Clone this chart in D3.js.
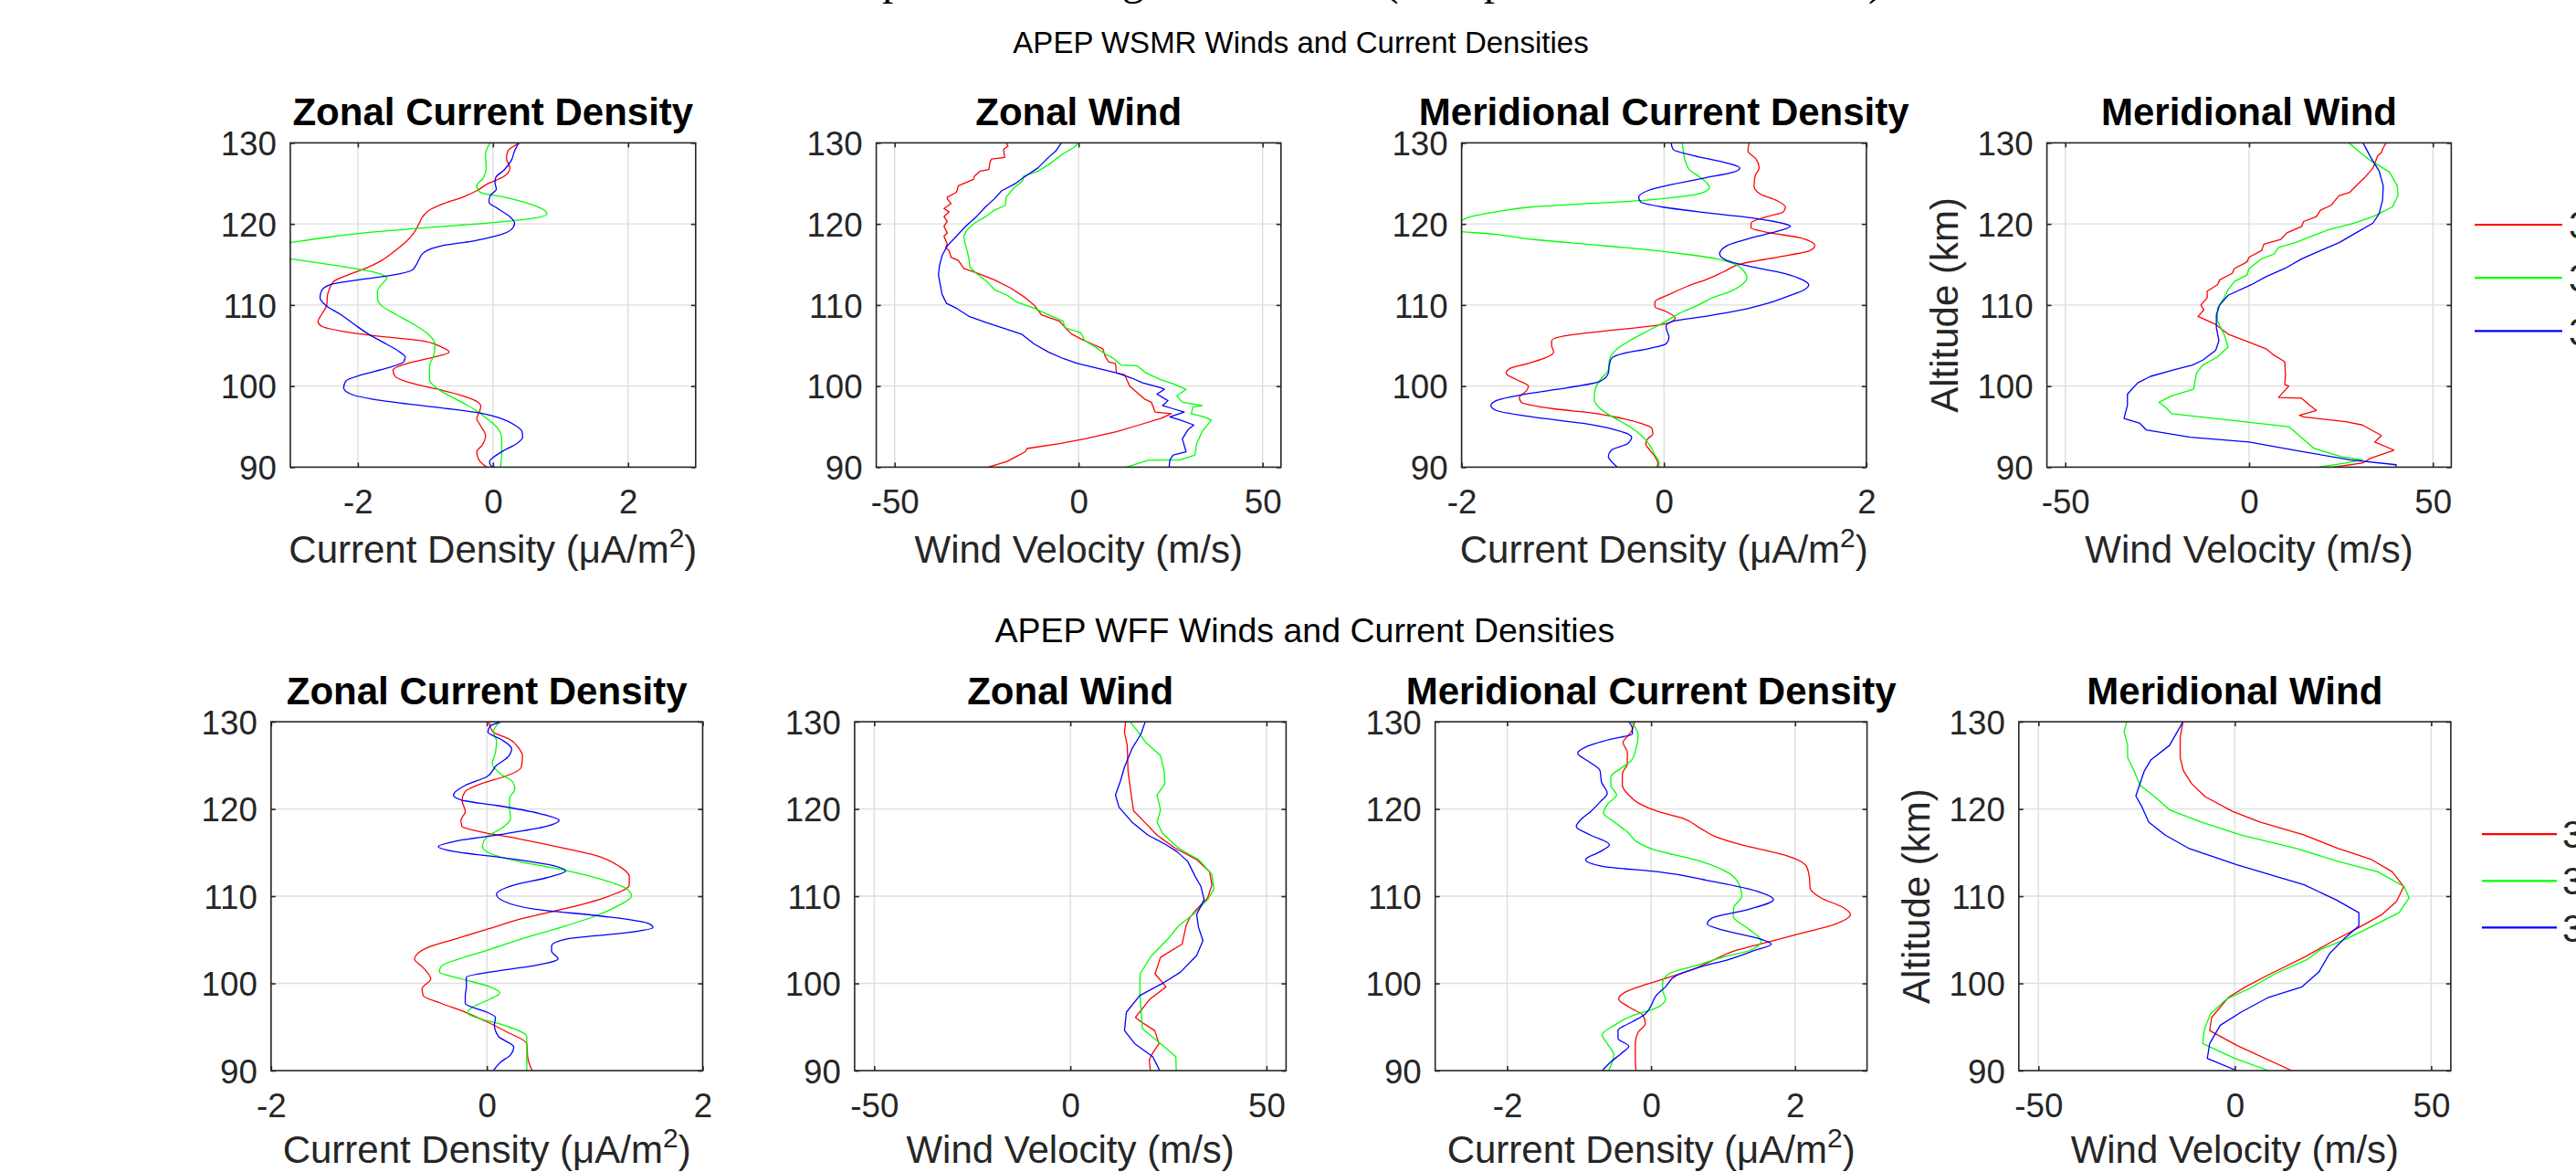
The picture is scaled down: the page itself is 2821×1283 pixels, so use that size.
<!DOCTYPE html>
<html>
<head>
<meta charset="utf-8">
<script src="https://cdn.jsdelivr.net/npm/d3@7"></script>
<style>
  body { margin: 0; background: #fff; overflow: hidden; }
  svg { display: block; font-family: "Liberation Sans", Arial, sans-serif; }
</style>
</head>
<body>
<svg id="chart"></svg>
<script>
const width = 2821, height = 1283;

// legend entries (red, green, blue)
const flights = ["36.386", "36.387", "36.388"];
const colors = ["#ff0000", "#00ff00", "#0000ff"];
const altTicks = [90, 100, 110, 120, 130];
const jTicks = [-2, 0, 2];
const windTicks = [-50, 0, 50];

// ---------- WSMR profiles, [altitude (km), value] ----------
const wsmrZonalJ386 = [[130,0.40],[129,0.22],[128.1,0.2],[126.9,0.25],[125.9,0.17],[124.9,-0.09],[124.1,-0.24],[123.3,-0.45],[122.5,-0.73],[121.7,-0.94],[120.9,-1.04],[120.1,-1.09],[118.9,-1.17],[117.7,-1.3],[116.5,-1.48],[115.3,-1.69],[114.5,-1.89],[113.7,-2.15],[112.9,-2.36],[112,-2.42],[111.2,-2.45],[110,-2.46],[108.8,-2.54],[108,-2.59],[107.4,-2.54],[106.8,-2.25],[106.2,-1.74],[105.6,-1.07],[104.8,-0.76],[104.2,-0.65],[103.6,-0.86],[102.8,-1.27],[102,-1.48],[101.2,-1.45],[100.4,-1.22],[99.6,-0.81],[98.8,-0.45],[98,-0.22],[97.6,-0.18],[96.8,-0.2],[96,-0.24],[95.2,-0.19],[93.9,-0.11],[92.7,-0.16],[91.9,-0.24],[91.1,-0.22],[90.3,-0.14],[90,-0.09]];
const wsmrZonalJ387 = [[130,-0.04],[128.6,-0.11],[126.9,-0.1],[125.7,-0.14],[124.7,-0.24],[123.9,-0.19],[123.3,0.17],[122.5,0.53],[121.7,0.76],[121.2,0.8],[120.7,0.6],[120.2,0.05],[119.6,-0.9],[118.9,-1.9],[118.3,-2.5],[117.7,-3.0],[116.7,-3.8],[115.7,-3.0],[115.1,-2.51],[114.5,-2.05],[113.9,-1.69],[113.3,-1.57],[112.7,-1.63],[111.7,-1.71],[110.9,-1.71],[110,-1.66],[108.8,-1.43],[107.6,-1.17],[106.4,-0.96],[105.2,-0.86],[104,-0.87],[102.4,-0.94],[100.8,-0.94],[99.6,-0.81],[98.4,-0.55],[97.2,-0.29],[96,-0.09],[94.8,0.07],[93.5,0.13],[91.9,0.13],[90,0.11]];
const wsmrZonalJ388 = [[130,0.38],[129,0.32],[127.8,0.27],[126.7,0.17],[125.7,0.04],[125.1,0.03],[124.3,0.05],[123.5,-0.04],[122.7,-0.06],[121.9,0.07],[120.9,0.25],[120.1,0.32],[119.3,0.27],[118.5,0.04],[117.9,-0.29],[117.3,-0.76],[116.5,-1.02],[115.7,-1.09],[114.9,-1.14],[114.3,-1.2],[113.7,-1.48],[113.1,-1.99],[112.5,-2.41],[111.7,-2.54],[110.9,-2.56],[110,-2.48],[108.8,-2.25],[107.6,-2.05],[106.4,-1.84],[105.2,-1.58],[104.2,-1.38],[103.6,-1.3],[103,-1.32],[102.2,-1.58],[101.4,-1.94],[100.6,-2.18],[99.8,-2.21],[99,-2.1],[98.4,-1.79],[97.8,-1.27],[97.2,-0.65],[96.6,-0.14],[96,0.12],[95.2,0.32],[94.4,0.43],[93.7,0.44],[92.9,0.35],[92.1,0.17],[91.3,0.02],[90.7,-0.05],[90.3,-0.04],[90,0]];

const wsmrZonalW386 = [[130,-19.6],[129.6,-19.2],[129.2,-20.4],[128.2,-20.1],[128,-23.7],[127.6,-24.1],[126.7,-24.4],[126.5,-26.8],[125.9,-28.3],[125.5,-28.6],[124.7,-32.7],[123.9,-33.2],[123.3,-35.7],[123.1,-35.7],[122.5,-34.7],[121.9,-36.6],[121.5,-35.2],[120.9,-36.6],[120.3,-35.7],[119.7,-36.6],[118.9,-35.7],[118.5,-36.6],[117.5,-35.7],[117.1,-36.1],[116.7,-35.2],[115.9,-34.7],[115.5,-32.7],[114.5,-31.2],[113.9,-27.3],[113.1,-22.9],[112.1,-18.5],[110.9,-14.5],[110,-12.1],[108.8,-10.1],[108,-5.2],[107,-3.2],[106.4,-1.8],[105.8,0.7],[105.2,3.6],[104.6,6.6],[103.8,7.1],[103,8.1],[102.8,10],[101.6,10.3],[101.4,12.5],[100,13.9],[98.8,16.9],[98.4,17.9],[98,19.8],[97.4,20.3],[96.8,20.8],[96.6,25.2],[96,22.3],[95.2,16.4],[94.4,10.5],[93.5,1.7],[92.9,-5.2],[92.3,-14],[91.9,-14.5],[91.3,-17],[90.7,-19.4],[90,-24.6]];
const wsmrZonalW387 = [[130,0],[129.4,-1.3],[128.8,-3.7],[128,-6.2],[127.3,-8.2],[126.5,-11.1],[125.9,-15],[125.3,-15.2],[124.5,-17.5],[123.3,-19.7],[122.3,-19.9],[121.7,-22.9],[120.9,-25.3],[120.1,-28.3],[119.3,-30.3],[118.5,-31.2],[117.7,-30.9],[116.7,-30.3],[115.7,-29.8],[114.7,-29.6],[113.9,-27.8],[112.9,-24.9],[111.9,-22.9],[111.2,-19.4],[110.4,-17],[109.6,-12.1],[108.6,-7.2],[108,-4.2],[107.2,-3.7],[106.6,0.5],[105.6,1.7],[104.8,4.6],[104,7.1],[103.4,9.5],[102.6,11.5],[102.5,15.9],[101.6,18.4],[100.8,22.3],[100.2,26.2],[99.6,29.2],[98.8,26.7],[98,28.2],[97.6,33.6],[97.4,31.1],[96.6,30.6],[96.2,34.1],[95.8,36.1],[94.4,33.6],[92.9,32.1],[91.5,31.6],[90.9,27.7],[90.85,18.9],[90,13]];
const wsmrZonalW388 = [[130,-4.7],[129,-6.2],[128.2,-8.2],[126.9,-11.1],[125.7,-15],[124.9,-17.5],[124.1,-20.9],[123.1,-22.9],[122.1,-25.3],[120.9,-27.8],[119.7,-30.7],[118.5,-33.2],[117.3,-35.7],[116.1,-37.1],[114.9,-37.8],[113.7,-38.1],[112.5,-37.6],[111.3,-37.1],[110.2,-35.9],[109.6,-33.2],[108.6,-29.8],[107.8,-24.9],[107,-19.4],[106.4,-15.5],[105.2,-12.1],[104.2,-8.2],[103.4,-4.2],[102.8,-0.3],[102.2,5.1],[101.6,10.5],[101,14.4],[100.4,17.4],[99.8,22.3],[99.6,23.3],[99,21.3],[98.2,24.3],[97.6,22.8],[97.2,25.7],[96.8,28.7],[96.2,24.8],[95.8,27.7],[95.2,31.3],[94.6,29.7],[93.5,28.2],[91.9,29.2],[91.5,25.7],[90.9,24.8],[90,24.6]];

const wsmrMeridJ386 = [[130,0.84],[129,0.83],[128,0.91],[126.9,0.94],[125.9,0.9],[124.7,0.89],[123.7,0.95],[122.9,1.11],[122.1,1.2],[121.5,1.18],[120.9,1.02],[120.1,0.86],[119.5,0.86],[118.9,1.05],[118.3,1.34],[117.3,1.49],[116.7,1.44],[115.9,1.12],[115.1,0.77],[114.1,0.59],[113.3,0.45],[112.3,0.23],[111.3,0.05],[110.4,-0.09],[109.8,-0.09],[109.2,0.02],[108.4,0.11],[107.8,0.05],[107.4,-0.12],[106.8,-0.59],[106.2,-0.98],[105.6,-1.11],[105,-1.11],[104.2,-1.09],[103.4,-1.19],[102.8,-1.34],[102.2,-1.52],[101.6,-1.56],[100.8,-1.46],[100,-1.34],[99.4,-1.36],[98.6,-1.43],[98,-1.41],[97.2,-1.09],[96.6,-0.66],[96,-0.41],[95.4,-0.23],[94.8,-0.12],[94.1,-0.11],[93.5,-0.16],[92.9,-0.18],[92.1,-0.14],[91.3,-0.09],[90.5,-0.06],[90,-0.07]];
const wsmrMeridJ387 = [[130,0.18],[129,0.19],[127.8,0.21],[126.7,0.25],[125.9,0.34],[125.1,0.42],[124.5,0.45],[123.9,0.39],[123.4,0.19],[122.9,-0.2],[122.5,-0.77],[122.1,-1.3],[121.5,-1.66],[120.9,-1.91],[120.3,-2.05],[119.7,-2.5],[119.1,-2.05],[118.7,-1.66],[118.1,-1.3],[117.5,-0.77],[116.9,-0.23],[116.3,0.19],[115.7,0.52],[115.1,0.69],[114.3,0.78],[113.3,0.82],[112.5,0.77],[111.7,0.66],[110.9,0.48],[110,0.34],[109.2,0.19],[108,0.02],[106.8,-0.16],[105.6,-0.34],[104.4,-0.48],[103.2,-0.54],[102,-0.55],[100.8,-0.63],[99.6,-0.68],[98.4,-0.69],[97.2,-0.63],[96,-0.48],[95,-0.34],[94,-0.23],[92.7,-0.14],[91.5,-0.09],[90.7,-0.05],[90,-0.05]];
const wsmrMeridJ388 = [[130,0.07],[129.2,0.09],[128.4,0.3],[127.6,0.59],[126.9,0.75],[126.3,0.66],[125.7,0.41],[124.9,0.09],[124.1,-0.16],[123.3,-0.25],[122.7,-0.23],[122.1,-0.02],[121.5,0.34],[120.9,0.77],[120.3,1.09],[119.7,1.25],[119.1,1.12],[118.3,0.87],[117.3,0.62],[116.3,0.55],[115.5,0.62],[114.7,0.87],[113.9,1.19],[113.1,1.37],[112.5,1.43],[111.9,1.39],[111.1,1.23],[110.2,1.02],[109.4,0.77],[108.6,0.41],[108,0.09],[107.4,0.02],[106.8,0.03],[106,0.05],[105.2,0.02],[104.6,-0.16],[104,-0.41],[103.4,-0.52],[102.6,-0.54],[101.6,-0.55],[100.6,-0.63],[99.8,-0.95],[99,-1.38],[98.2,-1.66],[97.6,-1.71],[97,-1.66],[96.2,-1.3],[95.4,-0.8],[94.6,-0.48],[93.7,-0.32],[92.9,-0.36],[92.1,-0.52],[91.3,-0.55],[90.7,-0.52],[90,-0.46]];

const wsmrMeridW386 = [[130,37.3],[129.4,36.5],[128.8,36],[128.4,35],[126.9,33.7],[125.7,31.4],[124.7,29.1],[123.9,27.4],[123.5,24.5],[122.9,23.4],[122.3,22.3],[121.7,19.4],[120.9,18.3],[120.3,14.8],[119.7,14.3],[118.9,10.3],[118.1,8.6],[117.5,4],[116.7,3.4],[115.9,0],[115.3,-0.6],[114.5,-4],[113.9,-4.6],[113.1,-8],[112.5,-8.6],[111.7,-11.4],[110.9,-11.4],[110,-13.1],[109.4,-12.3],[108.6,-13.9],[107.6,-9.1],[106.4,-5.7],[105.4,0],[104.6,4.6],[103.8,6.8],[103,9.7],[101.4,9.9],[100.2,9.7],[100,10.8],[98.6,8],[98.5,14.3],[97.6,16.6],[97,18.3],[96.4,13.7],[96.2,14.8],[95.6,26.3],[95.2,30.8],[93.9,36],[93.1,34.2],[92.1,39.4],[91.1,33.1],[90.5,30.8],[90,22.8]];
const wsmrMeridW387 = [[130,27.1],[129,29.7],[127.8,33.1],[126.4,38.2],[124.7,40.3],[123.5,40.5],[122.1,39],[120.9,33.7],[120.1,28.5],[119.3,21.7],[118.5,17.1],[117.7,12.6],[117.1,8],[116.3,6.8],[115.7,3.4],[114.5,0],[113.7,-0.6],[112.9,-4],[111.9,-5.7],[110.9,-6.8],[109.6,-8.6],[108,-8.6],[106.4,-6.8],[104.8,-5.7],[103.6,-8.6],[102.6,-12.6],[101.6,-14.3],[99.6,-15.1],[98.8,-21.1],[98,-24.5],[97.4,-22.8],[96.6,-21.1],[95,10.8],[92.3,17.7],[91.3,25.1],[90.9,30.8],[90.5,26.3],[90,18.8]];
const wsmrMeridW388 = [[130,31],[128.2,33.1],[126.5,35.4],[124.7,36.5],[122.9,36.3],[121.3,35.4],[120.1,33.7],[118.9,29.1],[117.7,24.5],[116.7,19.4],[115.7,14.3],[114.5,9.7],[113.5,4.6],[112.5,0.6],[111.2,-5.7],[110,-8],[108.8,-8.9],[107.2,-8.9],[105.6,-8.2],[104.4,-9.1],[103.2,-12.6],[102.6,-15.4],[102,-20.5],[101.2,-26.8],[100.4,-30.3],[99,-33.1],[97.6,-33.1],[96.6,-33.7],[96,-34],[95.4,-29.7],[94.6,-28],[93.7,-16],[93.1,0],[91.9,14.8],[90.9,27.4],[90.3,40],[90,40]];

// ---------- WFF profiles, [altitude (km), value] ----------
const wffZonalJ386 = [[130,0.02],[129.5,0.03],[128.8,0.06],[128,0.21],[126.9,0.3],[126.1,0.33],[124.8,0.32],[124.2,0.26],[123.7,0.16],[122.9,-0.05],[122,-0.2],[121,-0.23],[119.7,-0.2],[118.7,-0.24],[118,-0.23],[117.4,-0.07],[116.6,0.29],[115.7,0.64],[114.7,1],[113.4,1.23],[112.3,1.32],[111.3,1.32],[110,1.13],[108.7,0.77],[107.5,0.35],[106.2,0],[105.1,-0.29],[104.1,-0.55],[102.8,-0.67],[101.8,-0.59],[100.5,-0.52],[99.4,-0.6],[98.6,-0.59],[97.7,-0.42],[96.7,-0.2],[95.6,0],[94.4,0.19],[93.1,0.37],[91.4,0.38],[90,0.42]];
const wffZonalJ387 = [[130,0.12],[128.8,0.06],[127.8,0.09],[126.5,0.08],[125.2,0.05],[124,0.13],[123.1,0.24],[122.3,0.26],[121.2,0.21],[120.2,0.21],[118.9,0.22],[117.8,0.14],[116.8,0],[115.7,-0.04],[114.9,0.03],[114,0.29],[113,0.71],[111.9,1.07],[110.9,1.29],[110,1.34],[109,1.23],[107.7,1],[106.4,0.68],[105.1,0.32],[103.9,0.03],[102.8,-0.26],[102,-0.42],[101.3,-0.44],[100.5,-0.23],[99.6,0.03],[98.9,0.12],[98.2,0.03],[97.3,-0.13],[96.6,-0.18],[96.1,-0.1],[95.2,0.16],[93.9,0.37],[92.2,0.37],[90,0.37]];
const wffZonalJ388 = [[130,0.14],[129.5,0.03],[128.8,0.01],[128,0.13],[126.9,0.23],[125.9,0.19],[125,0.09],[123.7,0],[122.7,-0.2],[121.6,-0.31],[121,-0.23],[120.4,0.09],[119.5,0.48],[118.7,0.67],[118,0.55],[117.2,0.19],[116.3,-0.29],[115.7,-0.45],[115.1,-0.29],[114.4,0.16],[113.6,0.58],[112.9,0.73],[112.1,0.55],[111.3,0.26],[110.2,0.09],[109.4,0.16],[108.5,0.45],[107.7,1.07],[106.9,1.49],[106.4,1.54],[105.8,1.29],[105.1,0.74],[104.3,0.6],[103.7,0.6],[102.8,0.66],[102,0.42],[101.3,0.03],[100.7,-0.19],[99.6,-0.19],[98.6,-0.2],[97.7,-0.2],[96.7,0],[96.1,0.08],[95.2,0.07],[93.9,0.11],[92.7,0.25],[91.8,0.22],[91,0.13],[90,0.06]];

const wffZonalW386 = [[130,14.1],[128.8,13.8],[127.3,14.5],[124.4,14.7],[122.7,15.2],[119.8,16.1],[118.5,18.9],[117,22.1],[115.5,26.7],[114.2,32.2],[112.8,35.5],[111.3,36.1],[109.8,35],[108.3,31.8],[107.5,30.4],[106.6,29.5],[104.5,28.5],[103,23],[101.1,21.6],[99.6,24.4],[98.2,20.3],[96.1,16.6],[95.6,18],[94.6,21.5],[93.1,22.6],[91.8,20.7],[91.2,20.1],[90,20.4]];
const wffZonalW387 = [[130,15.2],[129,17],[127.6,19.3],[126.1,23],[124.4,23.9],[122.9,24.1],[121.6,22.1],[119.9,23],[118.5,22.1],[117.2,23.5],[115.5,27.6],[114.2,32.7],[112.5,36.1],[110.8,36.6],[109.6,35],[107.9,31.3],[106.6,27.6],[105.1,24.9],[103.2,20.7],[101.1,17.8],[99,17.7],[94.8,18.4],[93.1,23],[91.6,26.9],[90,27]];
const wffZonalW388 = [[130,19.1],[128.6,18],[126.9,15.7],[124.8,13.8],[123.1,12.7],[121.6,11.5],[120.2,12.4],[118.5,15.7],[117,19.8],[115.9,24.4],[115.1,27.2],[114,29.9],[112.3,31.8],[111.1,33.3],[109.6,34.1],[107.9,32.2],[106.4,32.7],[104.9,33.8],[103.2,32.2],[101.3,28.1],[100.1,23.9],[98.6,17.7],[96.7,14.3],[94.6,13.8],[93.1,16.4],[91.6,21],[90.8,21.9],[90,22.8]];

const wffMeridJ386 = [[130,-0.23],[128.8,-0.28],[127.6,-0.39],[126.5,-0.33],[125.2,-0.33],[124,-0.4],[122.7,-0.4],[121.6,-0.31],[120.6,-0.16],[119.7,0.1],[118.9,0.45],[117.8,0.68],[116.8,0.9],[115.9,1.25],[114.7,1.86],[113.4,2.16],[112.1,2.2],[110.9,2.21],[109.8,2.36],[108.7,2.67],[107.9,2.77],[106.8,2.56],[105.8,2.11],[104.7,1.61],[103.7,1.15],[102.6,0.85],[101.5,0.55],[100.7,0.25],[99.9,-0.06],[99,-0.36],[98.2,-0.45],[97.3,-0.31],[96.3,-0.11],[95.4,-0.08],[94.4,-0.18],[93.1,-0.22],[91.4,-0.22],[90,-0.21]];
const wffMeridJ387 = [[130,-0.28],[129.2,-0.21],[128.4,-0.18],[126.9,-0.21],[125.6,-0.27],[124.6,-0.43],[123.7,-0.56],[122.7,-0.56],[121.6,-0.48],[120.6,-0.6],[119.5,-0.66],[118.5,-0.51],[117.2,-0.31],[116.3,-0.21],[115.3,0.05],[114.2,0.6],[113,1],[111.7,1.2],[110,1.26],[108.7,1.15],[107.7,1.14],[106.2,1.36],[104.9,1.53],[103.9,1.41],[103,1],[102,0.6],[101.1,0.25],[100.1,0.16],[99.2,0.16],[98.2,0.2],[97.1,0.05],[96.3,-0.26],[95.2,-0.51],[94.1,-0.68],[93.1,-0.61],[91.8,-0.52],[90,-0.59]];
const wffMeridJ388 = [[130,-0.31],[129.2,-0.26],[128.6,-0.26],[128,-0.56],[127.1,-0.91],[126.4,-1.02],[125.4,-0.86],[124.4,-0.71],[123.1,-0.69],[121.8,-0.61],[120.8,-0.71],[119.7,-0.84],[118.9,-0.96],[118,-1.04],[117,-0.84],[115.9,-0.58],[115.1,-0.71],[114.2,-0.91],[113.4,-0.66],[112.8,0.1],[111.7,0.85],[110.6,1.46],[109.6,1.7],[108.5,1.36],[107.5,0.85],[106.8,0.78],[106,1.05],[105.1,1.51],[104.5,1.67],[103.7,1.41],[102.8,1.1],[101.8,0.65],[100.9,0.35],[99.6,0.2],[98.6,0.07],[97.3,-0.01],[96.5,-0.08],[95.6,-0.26],[94.6,-0.46],[93.7,-0.46],[92.8,-0.31],[92,-0.41],[91,-0.56],[90,-0.68]];

const wffMeridW386 = [[130,-13.2],[128.2,-13.9],[125.9,-13.9],[124.4,-13.1],[122.9,-11],[121.4,-7.5],[119.7,-0.5],[118.5,6.4],[117,17.7],[115.5,26.2],[114.2,34.8],[112.8,40.1],[111.1,43],[109.4,41.2],[107.9,37.5],[106.4,31.6],[104.9,25.2],[103,17.7],[101.1,9.1],[99.6,2.7],[98.4,-1.6],[96.1,-5.9],[94.6,-6.4],[92.9,0.5],[90,14.5]];
const wffMeridW387 = [[130,-27.5],[128.9,-28.2],[127.3,-27.3],[125.9,-27.3],[124.4,-25.7],[122.7,-24.1],[121.6,-20.9],[119.9,-16.6],[118.5,-8.6],[117,1.6],[115.5,15.5],[114,26.2],[112.8,36.4],[111.1,43.1],[109.8,44.4],[108.1,41.8],[106.4,34.3],[105.1,28.4],[103.9,21.9],[102.8,18.7],[101.1,10.2],[99.4,3.7],[98.2,-2.1],[96.5,-6.2],[94.8,-7.7],[93.1,-8.2],[91.4,0],[90,8.6]];
const wffMeridW388 = [[130,-13.2],[127.3,-16.6],[125.6,-21.4],[124.4,-23],[121.5,-25.2],[120.2,-23.6],[118.5,-21.9],[117,-17.7],[115.5,-11.8],[113.6,0.5],[111.3,17.7],[109.6,25.7],[108.1,31.6],[106.6,31.6],[105.1,27.8],[103.4,24.1],[101.3,21.4],[99.6,17.1],[98.4,8.6],[96.7,1.6],[95.2,-3.7],[93.1,-6.4],[91.4,-7],[90,0.5]];

// ---------- layout ----------
const jLabel = "Current Density (\u03bcA/m";
const windLabel = "Wind Velocity (m/s)";

const rows = [
  {
    suptitle: "APEP WSMR Winds and Current Densities", supX: 1424.5, supY: 58, supSize: 33,
    top: 156.4, bottom: 511.4, xlabelGap: 105, ylabelGap: 98,
    legend: {x0: 2710, x1: 2806, y0: 246, step: 58.2, textX: 2813},
    panels: [
      {title: "Zonal Current Density", x0: 317.9, x1: 761.8, domain: [-3, 3], ticks: jTicks, unit: "j", smooth: true, series: [wsmrZonalJ386, wsmrZonalJ387, wsmrZonalJ388]},
      {title: "Zonal Wind", x0: 959.6, x1: 1402.8, domain: [-55, 55], ticks: windTicks, unit: "w", smooth: false, series: [wsmrZonalW386, wsmrZonalW387, wsmrZonalW388]},
      {title: "Meridional Current Density", x0: 1600.6, x1: 2043.9, domain: [-2, 2], ticks: jTicks, unit: "j", smooth: true, series: [wsmrMeridJ386, wsmrMeridJ387, wsmrMeridJ388]},
      {title: "Meridional Wind", x0: 2241.6, x1: 2684.4, domain: [-55, 55], ticks: windTicks, unit: "w", smooth: false, ylabel: true, series: [wsmrMeridW386, wsmrMeridW387, wsmrMeridW388]}
    ]
  },
  {
    suptitle: "APEP WFF Winds and Current Densities", supX: 1428.8, supY: 702.5, supSize: 37.5,
    top: 790.1, bottom: 1172, xlabelGap: 101, ylabelGap: 98,
    legend: {x0: 2718, x1: 2800, y0: 913.2, step: 51.1, textX: 2806},
    panels: [
      {title: "Zonal Current Density", x0: 296.8, x1: 769.5, domain: [-2, 2], ticks: jTicks, unit: "j", smooth: true, series: [wffZonalJ386, wffZonalJ387, wffZonalJ388]},
      {title: "Zonal Wind", x0: 935.9, x1: 1408.4, domain: [-55, 55], ticks: windTicks, unit: "w", smooth: false, series: [wffZonalW386, wffZonalW387, wffZonalW388]},
      {title: "Meridional Current Density", x0: 1571.7, x1: 2044.6, domain: [-3, 3], ticks: jTicks, unit: "j", smooth: true, series: [wffMeridJ386, wffMeridJ387, wffMeridJ388]},
      {title: "Meridional Wind", x0: 2210.8, x1: 2683.9, domain: [-55, 55], ticks: windTicks, unit: "w", smooth: false, ylabel: true, series: [wffMeridW386, wffMeridW387, wffMeridW388]}
    ]
  }
];

const axisColor = "#262626";
const tickFont = 36.7;
const labelFont = 42;

const svg = d3.select("#chart").attr("width", width).attr("height", height);
const defs = svg.append("defs");

svg.append("rect").attr("width", width).attr("height", height).attr("fill", "#fff");

// big figure title, cropped by the top edge of the picture
svg.append("text")
  .attr("x", 873).attr("y", -6)
  .attr("font-family", "'Liberation Serif', 'Times New Roman', serif")
  .attr("font-size", 48)
  .attr("fill", "#000")
  .text("Comparisons Using Rocket Data (Computed Wind Estimates)");

let clipId = 0;

rows.forEach(row => {
  svg.append("text")
    .attr("x", row.supX).attr("y", row.supY)
    .attr("text-anchor", "middle")
    .attr("font-size", row.supSize)
    .attr("fill", "#000")
    .text(row.suptitle);

  const y = d3.scaleLinear().domain([90, 130]).range([row.bottom, row.top]);

  row.panels.forEach(p => {
    const x = d3.scaleLinear().domain(p.domain).range([p.x0, p.x1]);
    const g = svg.append("g");

    // grid
    g.selectAll("line.vgrid")
      .data(p.ticks)
      .enter().append("line")
      .attr("class", "vgrid")
      .attr("x1", d => x(d)).attr("x2", d => x(d))
      .attr("y1", row.top).attr("y2", row.bottom)
      .attr("stroke", "#dedede").attr("stroke-width", 1.4);
    g.selectAll("line.hgrid")
      .data([100, 110, 120])
      .enter().append("line")
      .attr("class", "hgrid")
      .attr("x1", p.x0).attr("x2", p.x1)
      .attr("y1", d => y(d)).attr("y2", d => y(d))
      .attr("stroke", "#dedede").attr("stroke-width", 1.4);

    // lines, clipped to the axes box
    const id = "clip" + (clipId++);
    defs.append("clipPath").attr("id", id)
      .append("rect")
      .attr("x", p.x0).attr("y", row.top)
      .attr("width", p.x1 - p.x0).attr("height", row.bottom - row.top);

    const line = d3.line()
      .x(d => x(d[1]))
      .y(d => y(d[0]))
      .curve(p.smooth ? d3.curveMonotoneY : d3.curveLinear);

    g.append("g").attr("clip-path", `url(#${id})`)
      .selectAll("path")
      .data(p.series)
      .enter().append("path")
      .attr("d", line)
      .attr("fill", "none")
      .attr("stroke", (d, i) => colors[i])
      .attr("stroke-width", 1.3)
      .attr("stroke-linejoin", "round");

    // axes (ticks point inward on all four sides)
    const fmt = d => String(d);
    const xb = g.append("g").attr("transform", `translate(0,${row.bottom})`)
      .call(d3.axisBottom(x).tickValues(p.ticks).tickSizeInner(-5).tickSizeOuter(0).tickPadding(25).tickFormat(fmt));
    const xt = g.append("g").attr("transform", `translate(0,${row.top})`)
      .call(d3.axisTop(x).tickValues(p.ticks).tickSizeInner(-5).tickSizeOuter(0).tickFormat(""));
    const yl = g.append("g").attr("transform", `translate(${p.x0},0)`)
      .call(d3.axisLeft(y).tickValues(altTicks).tickSizeInner(-5).tickSizeOuter(0).tickPadding(15).tickFormat(fmt));
    const yr = g.append("g").attr("transform", `translate(${p.x1},0)`)
      .call(d3.axisRight(y).tickValues(altTicks).tickSizeInner(-5).tickSizeOuter(0).tickFormat(""));

    [xb, xt, yl, yr].forEach(a => {
      a.select(".domain").remove();
      a.selectAll(".tick line").attr("stroke", axisColor).attr("stroke-width", 1.6);
      a.selectAll(".tick text")
        .attr("fill", axisColor)
        .attr("font-size", tickFont)
        .attr("font-family", "'Liberation Sans', Arial, sans-serif");
    });
    yl.selectAll(".tick text").attr("dy", "0.36em");

    // box
    g.append("rect")
      .attr("x", p.x0).attr("y", row.top)
      .attr("width", p.x1 - p.x0).attr("height", row.bottom - row.top)
      .attr("fill", "none").attr("stroke", axisColor).attr("stroke-width", 1.6);

    // title
    g.append("text")
      .attr("x", (p.x0 + p.x1) / 2).attr("y", row.top - 19.5)
      .attr("text-anchor", "middle")
      .attr("font-size", labelFont).attr("font-weight", "bold")
      .attr("fill", "#000")
      .text(p.title);

    // x label
    const xl = g.append("text")
      .attr("x", (p.x0 + p.x1) / 2).attr("y", row.bottom + row.xlabelGap)
      .attr("text-anchor", "middle")
      .attr("font-size", labelFont)
      .attr("fill", axisColor);
    if (p.unit === "j") {
      xl.append("tspan").text(jLabel);
      xl.append("tspan").attr("dy", -17).attr("font-size", 30).text("2");
      xl.append("tspan").attr("dy", 17).text(")");
    } else {
      xl.text(windLabel);
    }

    // y label
    if (p.ylabel) {
      const cx = p.x0 - row.ylabelGap, cy = (row.top + row.bottom) / 2;
      g.append("text")
        .attr("transform", `translate(${cx},${cy}) rotate(-90)`)
        .attr("text-anchor", "middle")
        .attr("font-size", labelFont)
        .attr("fill", axisColor)
        .text("Altitude (km)");
    }
  });

  // legend (mostly cut off by the right edge)
  const lg = row.legend;
  const items = svg.append("g").selectAll("g")
    .data(flights)
    .enter().append("g")
    .attr("transform", (d, i) => `translate(0,${lg.y0 + i * lg.step})`);
  items.append("line")
    .attr("x1", lg.x0).attr("x2", lg.x1)
    .attr("stroke", (d, i) => colors[i])
    .attr("stroke-width", 2.2);
  items.append("text")
    .attr("x", lg.textX).attr("dy", "0.36em")
    .attr("font-size", labelFont)
    .attr("fill", axisColor)
    .text(d => d);
});
</script>
</body>
</html>
